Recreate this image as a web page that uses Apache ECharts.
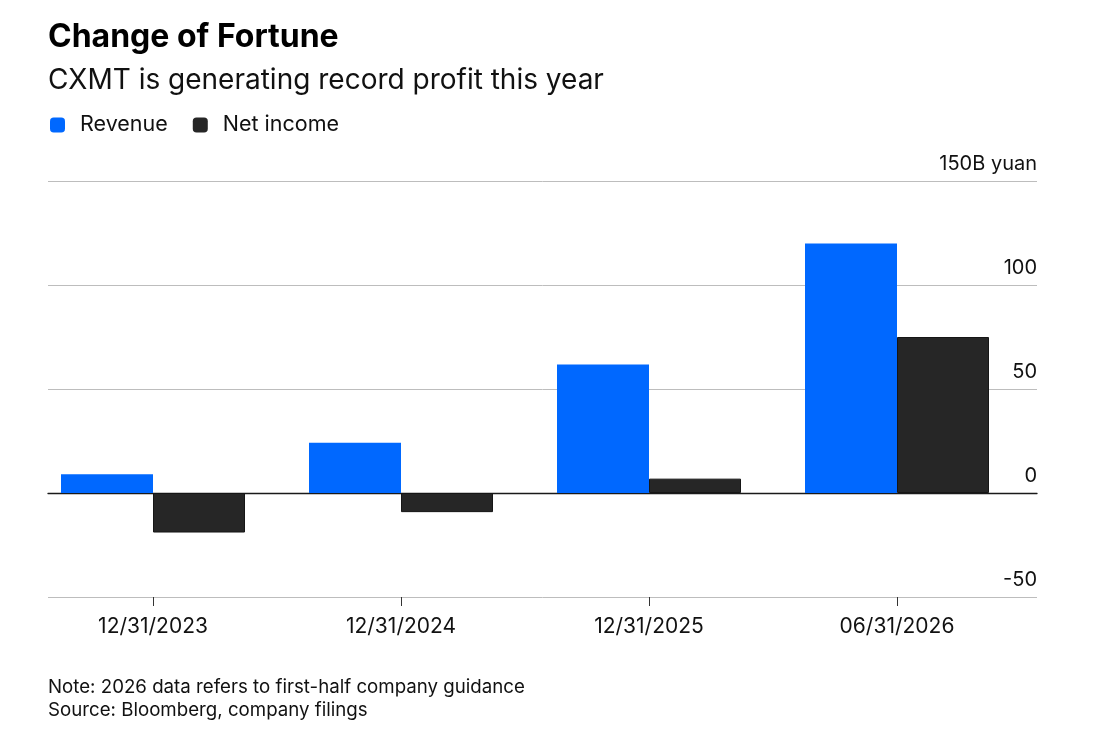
<!DOCTYPE html>
<html>
<head>
<meta charset="utf-8">
<script src="https://cdn.jsdelivr.net/npm/echarts@6/dist/echarts.min.js"></script>
<style>
  html, body { margin: 0; padding: 0; background: #fff; }
  #charts { width: 1100px; height: 745px; }
</style>
</head>
<body>
<div id="charts"></div>
<script>
// data, billions of yuan
var categories = ['12/31/2023', '12/31/2024', '12/31/2025', '06/31/2026'];
var revenue = [9, 24.1, 61.8, 120];
var netIncome = [-19, -9.2, 6.9, 75];
var yTicks = [-50, 0, 50, 100, 150];

var font = "Inter, 'Liberation Sans', Arial, sans-serif";
var chart = echarts.init(document.getElementById('charts'));

var option = {
    backgroundColor: '#fff',
    animation: false,
    textStyle: { fontFamily: font },
    title: [
        {
            text: 'Change of Fortune',
            left: 43, top: 16,
            textStyle: { fontFamily: font, fontSize: 32, fontWeight: 'bold', color: '#000' }
        },
        {
            text: 'CXMT is generating record profit this year',
            left: 43, top: 62,
            textStyle: { fontFamily: font, fontSize: 28, fontWeight: 'normal', color: '#111' }
        },
        {
            text: 'Note: 2026 data refers to first-half company guidance\nSource: Bloomberg, company filings',
            left: 43, top: 671,
            textStyle: { fontFamily: font, fontSize: 18.7, lineHeight: 23, fontWeight: 'normal', color: '#111' }
        }
    ],
    legend: {
        left: 45, top: 109,
        icon: 'roundRect',
        itemWidth: 15, itemHeight: 15,
        itemGap: 25,
        selectedMode: false,
        itemStyle: { borderWidth: 0 },
        textStyle: { fontFamily: font, fontSize: 21.5, color: '#111', padding: [0, 0, 0, 10] },
        data: ['Revenue', 'Net income']
    },
    grid: [
        { left: 48, right: 63, top: 181, bottom: 148 },   // gridlines + labels
        { left: 29, right: 79, top: 181, bottom: 148 }    // bars
    ],
    xAxis: [
        {
            gridIndex: 0, type: 'category', data: categories,
            axisLine: { show: true, onZero: true, lineStyle: { color: '#1a1a1a', width: 1.3 } },
            axisTick: { show: false }, axisLabel: { show: false }
        },
        {
            gridIndex: 1, type: 'category', data: categories,
            axisLine: { show: false, onZero: false },
            axisTick: { show: true, alignWithLabel: true, length: 9, lineStyle: { color: '#333' } },
            axisLabel: { fontFamily: font, fontSize: 21, color: '#111', margin: 19 }
        }
    ],
    yAxis: [
        {
            gridIndex: 0, type: 'value', position: 'right',
            min: yTicks[0], max: yTicks[yTicks.length - 1], interval: 50,
            axisLine: { show: false }, axisTick: { show: false },
            splitLine: { show: true, lineStyle: { color: '#bdbdbd', width: 1 } },
            axisLabel: {
                inside: true, margin: 0, verticalAlign: 'bottom', padding: [0, 0, 7, 0],
                fontFamily: font, fontSize: 20, color: '#111',
                formatter: function (v) { return v === 150 ? '150B yuan' : String(v); }
            }
        },
        {
            gridIndex: 1, type: 'value', show: false,
            min: yTicks[0], max: yTicks[yTicks.length - 1], interval: 50
        }
    ],
    series: [
        {
            name: 'Revenue', type: 'bar', xAxisIndex: 1, yAxisIndex: 1,
            data: revenue, barWidth: 92, barGap: '0%',
            itemStyle: { color: '#0068ff' }
        },
        {
            name: 'Net income', type: 'bar', xAxisIndex: 1, yAxisIndex: 1,
            data: netIncome, barWidth: 92, barGap: '0%',
            itemStyle: { color: '#262626', borderColor: '#161616', borderWidth: 1 }
        }
    ]
};
chart.setOption(option);
</script>
</body>
</html>
